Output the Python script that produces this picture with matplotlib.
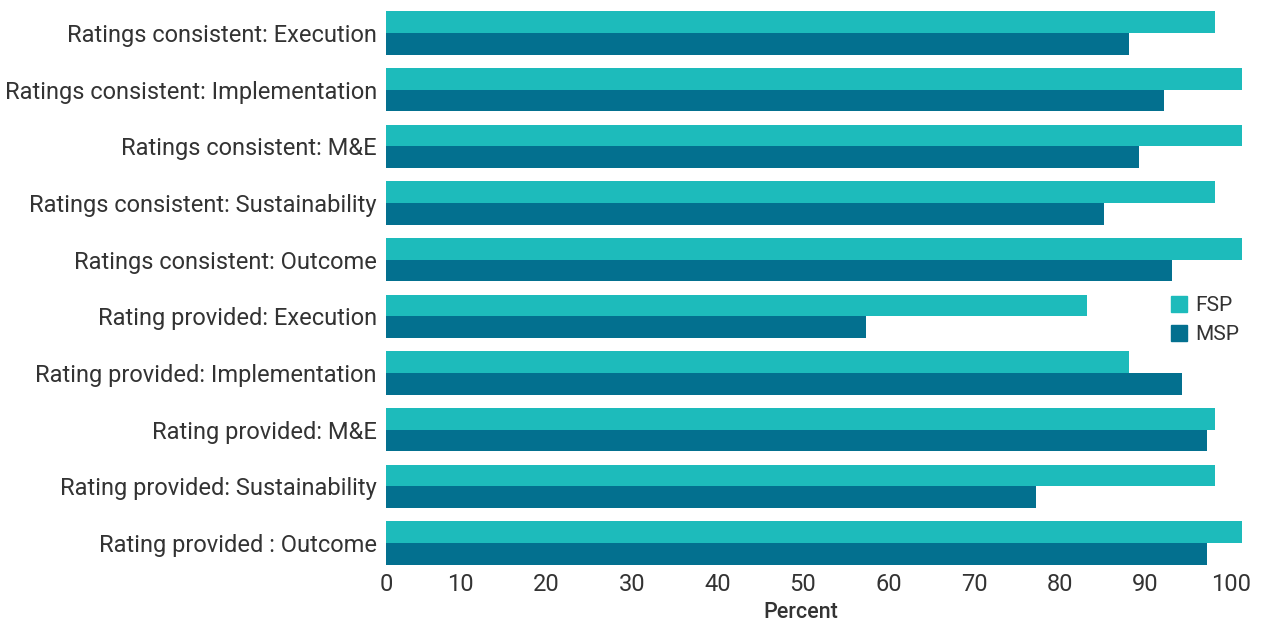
import matplotlib
matplotlib.use("Agg")
import matplotlib.pyplot as plt
from matplotlib.patches import Patch
from matplotlib.transforms import ScaledTranslation
import numpy as np

plt.rcParams['font.family'] = ['Roboto', 'DejaVu Sans']

categories = [
    "Ratings consistent: Execution",
    "Ratings consistent: Implementation",
    "Ratings consistent: M&E",
    "Ratings consistent: Sustainability",
    "Ratings consistent: Outcome",
    "Rating provided: Execution",
    "Rating provided: Implementation",
    "Rating provided: M&E",
    "Rating provided: Sustainability",
    "Rating provided : Outcome",
]
fsp = [96.8, 100, 100, 96.8, 100, 81.9, 86.8, 96.8, 96.8, 100]
msp = [86.8, 90.9, 88.0, 83.9, 91.8, 56.1, 93.0, 95.9, 75.9, 95.9]
series_names = ["FSP", "MSP"]
xticks = [0, 10, 20, 30, 40, 50, 60, 70, 80, 90, 100]

FSP_COLOR = "#1DBBBB"
MSP_COLOR = "#03708F"
TEXT = "#333333"

W, H = 1265, 621
fig = plt.figure(figsize=(W / 100, H / 100), dpi=100)
left, right = 386 / W, 1242 / W
top_px, bot_px = 4.7, 571.3
ax = fig.add_axes([left, 1 - bot_px / H, right - left, (bot_px - top_px) / H])

y = np.arange(len(categories))
h = 0.38
ax.barh(y - h / 2, fsp, height=h, color=FSP_COLOR, label=series_names[0])
ax.barh(y + h / 2, msp, height=h, color=MSP_COLOR, label=series_names[1])

ax.set_ylim(len(categories) - 0.5, -0.5)
ax.set_xlim(0, 100)
ax.set_yticks(y)
ax.set_yticklabels(categories, fontsize=17, color=TEXT)
ax.set_xticks(xticks)
ax.set_xticklabels([str(t) for t in xticks], fontsize=17, color=TEXT)
ax.tick_params(axis='y', length=0, pad=6.5)
ax.tick_params(axis='x', length=0, pad=1.5)
for s in ax.spines.values():
    s.set_visible(False)

# small horizontal shift of tick labels to match the reference placement
shift = ScaledTranslation(-0.11, 0, fig.dpi_scale_trans)
for lab in ax.get_xticklabels()[1:]:
    lab.set_transform(lab.get_transform() + shift)

ax.set_xlabel("Percent", fontsize=15.5, color=TEXT, fontweight='medium', labelpad=4)
ax.xaxis.label.set_transform(ax.xaxis.label.get_transform() +
                             ScaledTranslation(-0.13, 0, fig.dpi_scale_trans))

handles = [Patch(color=FSP_COLOR), Patch(color=MSP_COLOR)]
fig.legend(handles, series_names, loc='upper left',
           bbox_to_anchor=(1171 / W, 1 - 296 / H), frameon=False,
           fontsize=15, handlelength=0.77, handleheight=0.77,
           handletextpad=0.38, labelspacing=0.5, borderpad=0,
           borderaxespad=0, labelcolor=TEXT)

fig.savefig("out.png", dpi=100)
